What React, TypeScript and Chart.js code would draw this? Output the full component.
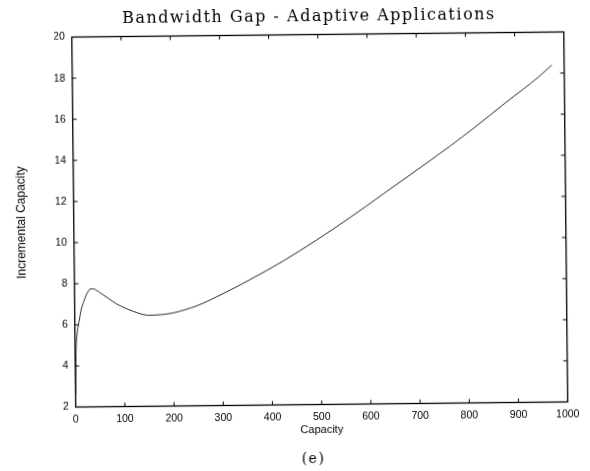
import React, { useEffect, useRef } from "react";
import { Chart, registerables } from "chart.js";

Chart.register(...registerables);

// Data
const capacity: number[] = [
  0, 1, 2, 4, 9, 14, 19, 25, 33, 40, 50, 70, 85, 100, 120, 150, 175, 200, 250,
  300, 356, 425, 493, 561, 629, 698, 766, 814, 881, 949, 975,
];
const incrementalCapacity: number[] = [
  2.6, 3.9, 4.8, 5.45, 6.2, 6.8, 7.15, 7.5, 7.74, 7.73, 7.58, 7.25, 7.0, 6.82,
  6.62, 6.43, 6.45, 6.53, 6.88, 7.42, 8.1, 9.0, 10.0, 11.07, 12.2, 13.35, 14.5,
  15.35, 16.6, 17.85, 18.4,
];

const titleText = "Bandwidth Gap - Adaptive Applications";
const captionText = "(e)";
const xTitle = "Capacity";
const yTitle = "Incremental Capacity";
const xTickValues: number[] = [0, 100, 200, 300, 400, 500, 600, 700, 800, 900, 1000];
const yTickValues: number[] = [2, 4, 6, 8, 10, 12, 14, 16, 18, 20];

const titleSpacingPlugin = {
  id: "titleSpacing",
  beforeDraw(chart: any) {
    chart.ctx.letterSpacing = "1.5px";
  },
  beforeDatasetsDraw(chart: any) {
    chart.ctx.letterSpacing = "0px";
  },
};

const boxTicksPlugin = {
  id: "boxTicks",
  afterDraw(chart: any) {
    const { ctx, chartArea: a, scales } = chart;
    const x = scales.x;
    const y = scales.y;
    ctx.save();
    ctx.letterSpacing = "0px";
    ctx.strokeStyle = "#000";
    ctx.lineWidth = 1.3;
    ctx.strokeRect(a.left, a.top, a.right - a.left, a.bottom - a.top);
    ctx.lineWidth = 1;
    const len = 4;
    ctx.beginPath();
    x.ticks.forEach((t: any) => {
      if (t.value <= x.min || t.value >= x.max) return;
      const px = x.getPixelForValue(t.value);
      ctx.moveTo(px, a.bottom);
      ctx.lineTo(px, a.bottom - len);
      ctx.moveTo(px, a.top);
      ctx.lineTo(px, a.top + len);
    });
    y.ticks.forEach((t: any) => {
      if (t.value <= y.min || t.value >= y.max) return;
      const py = y.getPixelForValue(t.value);
      ctx.moveTo(a.left, py);
      ctx.lineTo(a.left + len, py);
      ctx.moveTo(a.right, py);
      ctx.lineTo(a.right - len, py);
    });
    ctx.stroke();
    ctx.restore();
  },
};

export default function App() {
  const ref = useRef<HTMLCanvasElement | null>(null);

  useEffect(() => {
    if (!ref.current) return;
    const points = capacity.map((c, i) => ({ x: c, y: incrementalCapacity[i] }));
    const sans = "'Liberation Sans', Arial, sans-serif";
    const serif = "'DejaVu Serif', serif";
    const chart = new Chart(ref.current, {
      type: "line",
      data: {
        datasets: [
          {
            data: points,
            borderColor: "#2a2a2a",
            borderWidth: 1,
            pointRadius: 0,
            fill: false,
            cubicInterpolationMode: "monotone",
          },
        ],
      },
      options: {
        animation: false,
        responsive: false,
        devicePixelRatio: 1,
        layout: { padding: { left: 56.25, right: 24.25, top: 0, bottom: 0 } },
        plugins: {
          legend: { display: false },
          tooltip: { enabled: false },
          title: {
            display: true,
            text: titleText,
            color: "#000",
            font: { family: serif, size: 16, weight: "normal" },
            padding: { top: 7, bottom: 8.3 },
          },
          subtitle: {
            display: true,
            position: "bottom",
            text: captionText,
            color: "#000",
            font: { family: serif, size: 14, weight: "normal" },
            padding: { top: 10.7, bottom: 3 },
          },
        },
        scales: {
          x: {
            type: "linear",
            min: 0,
            max: 1000,
            afterBuildTicks: (scale: any) => {
              scale.ticks = xTickValues.map((v) => ({ value: v }));
            },
            afterFit: (scale: any) => {
              scale.height = 36;
            },
            grid: { display: false, drawTicks: false, z: 1 },
            border: { display: false, z: 1 },
            ticks: {
              z: 1,
              padding: 6.5,
              color: "#000",
              autoSkip: false,
              maxRotation: 0,
              callback: (v: any) => String(v),
              font: { family: sans, size: 10.5 },
            },
            title: {
              display: true,
              text: xTitle,
              color: "#000",
              font: { family: sans, size: 11 },
              padding: { top: 0, bottom: 3.9 },
            },
          },
          y: {
            type: "linear",
            min: 2,
            max: 20,
            afterBuildTicks: (scale: any) => {
              scale.ticks = yTickValues.map((v) => ({ value: v }));
            },
            afterFit: (scale: any) => {
              scale.width = 17.5;
            },
            grid: { display: false, drawTicks: false, z: 1 },
            border: { display: false, z: 1 },
            ticks: {
              z: 1,
              padding: 7,
              color: "#000",
              autoSkip: false,
              callback: (v: any) => String(v),
              font: { family: sans, size: 10.5 },
            },
            title: {
              display: true,
              text: yTitle,
              color: "#000",
              font: { family: sans, size: 12 },
              padding: { top: -41.75, bottom: 0 },
            },
          },
        },
      },
      plugins: [titleSpacingPlugin, boxTicksPlugin],
    } as any);
    return () => chart.destroy();
  }, []);

  return (
    <div style={{ position: "absolute", left: 0, top: 0, width: 590, height: 471 }}>
      <canvas
        ref={ref}
        width={590}
        height={471}
        style={{
          display: "block",
          width: 590,
          height: 471,
          transform: "rotate(-0.6deg)",
          transformOrigin: "320px 220px",
        }}
      />
    </div>
  );
}
